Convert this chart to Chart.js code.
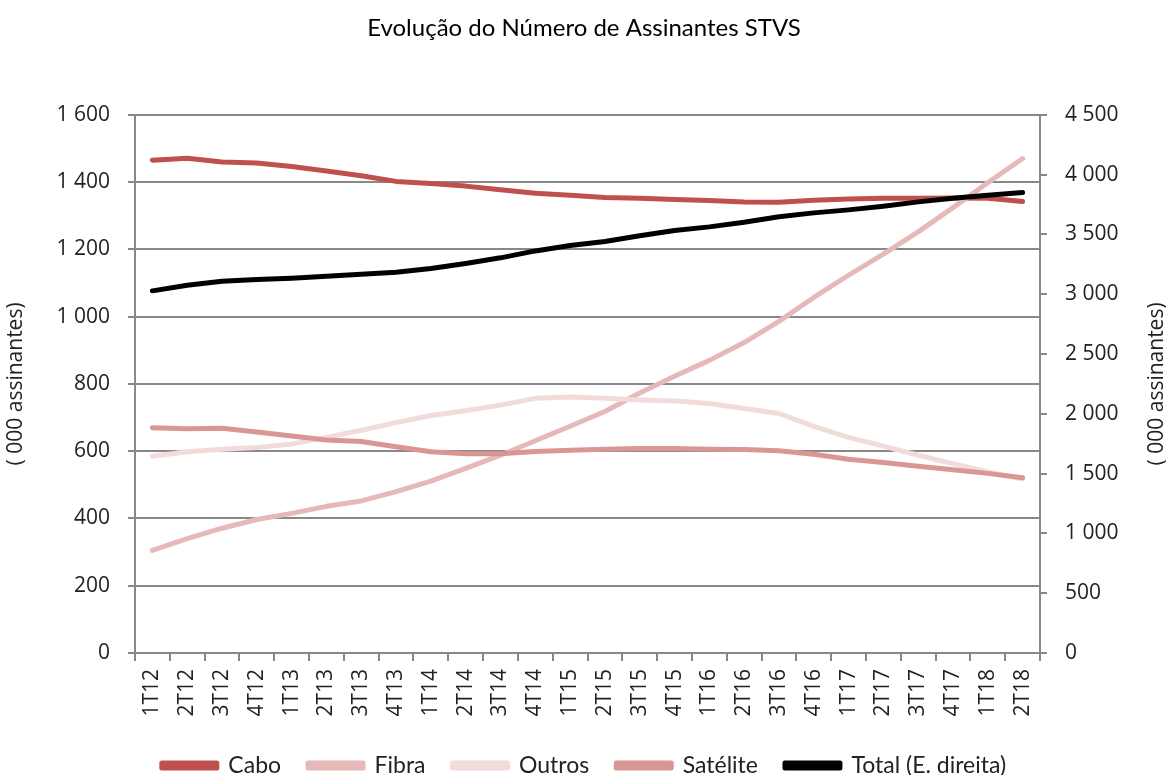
<!DOCTYPE html>
<html>
<head>
<meta charset="utf-8">
<script src="https://cdn.jsdelivr.net/npm/chart.js@4/dist/chart.umd.min.js"></script>
<style>
  html, body { margin: 0; padding: 0; background: #fff; }
  #wrap { width: 1168px; height: 775px; }
</style>
</head>
<body>
<div id="wrap"><canvas id="stvsChart" width="1168" height="775"></canvas></div>
<script>
const quarters = [
  "1T12", "2T12", "3T12", "4T12", "1T13", "2T13", "3T13", "4T13",
  "1T14", "2T14", "3T14", "4T14", "1T15", "2T15", "3T15", "4T15",
  "1T16", "2T16", "3T16", "4T16", "1T17", "2T17", "3T17", "4T17",
  "1T18", "2T18"
];

// milhares de assinantes
const cabo = [
  1465, 1471, 1460, 1457, 1446, 1433, 1419, 1402, 1396, 1388, 1377, 1367, 1361,
  1354, 1352, 1348, 1345, 1341, 1340, 1346, 1350, 1352, 1352, 1353, 1352, 1342
];
const fibra = [
  305, 340, 371, 397, 415, 436, 452, 480, 511, 549, 588, 631, 674,
  718, 773, 823, 870, 923, 986, 1057, 1123, 1186, 1252, 1324, 1398, 1470
];
const outros = [
  585, 598, 606, 611, 621, 641, 662, 685, 706, 720, 737, 757, 761,
  757, 752, 749, 742, 727, 712, 674, 641, 615, 588, 563, 538, 517
];
const satelite = [
  670, 667, 668, 657, 645, 633, 629, 613, 598, 592, 592, 599, 603,
  606, 608, 608, 606, 605, 601, 591, 576, 566, 555, 545, 534, 521
];
// eixo da direita
const total = [
  3028, 3075, 3109, 3123, 3134, 3151, 3167, 3184, 3215, 3257, 3304, 3362, 3407,
  3441, 3488, 3533, 3563, 3602, 3647, 3680, 3705, 3736, 3772, 3803, 3828, 3851
];

const axisTitle = "( 000 assinantes)";
const gridColor = "#888888";
const tickFont = { family: "'Open Sans'", size: 21 };
const textFont = { family: "Lato", size: 23 };
const bottomShift = 12;

function fmt(v) {
  return String(v).replace(/\B(?=(\d{3})+(?!\d))/g, " ");
}

function line(label, data, color, order, axis) {
  return {
    label: label,
    data: data,
    borderColor: color,
    backgroundColor: color,
    borderWidth: 5,
    borderCapStyle: "round",
    borderJoinStyle: "round",
    pointRadius: 0,
    tension: 0,
    order: order,
    yAxisID: axis
  };
}

// título do eixo direito, lido de baixo para cima como o da esquerda
const rightTitle = {
  id: "rightTitle",
  afterDraw(chart) {
    const ctx = chart.ctx;
    const area = chart.chartArea;
    ctx.save();
    ctx.translate(1157, (area.top + area.bottom) / 2);
    ctx.rotate(-Math.PI / 2);
    ctx.fillStyle = "#222";
    ctx.font = "21px 'Open Sans'";
    ctx.textAlign = "center";
    ctx.textBaseline = "middle";
    ctx.fillText(axisTitle, 0, 0);
    ctx.restore();
  }
};

new Chart(document.getElementById("stvsChart"), {
  type: "line",
  data: {
    labels: quarters,
    datasets: [
      line("Cabo", cabo, "#C0504D", 5, "y"),
      line("Fibra", fibra, "#E6B9B8", 4, "y"),
      line("Outros", outros, "#F2DCDB", 3, "y"),
      line("Satélite", satelite, "#D99694", 2, "y"),
      line("Total (E. direita)", total, "#000000", 1, "y1")
    ]
  },
  plugins: [rightTitle],
  options: {
    responsive: false,
    animation: false,
    layout: { padding: { left: 0, right: 0, top: 0, bottom: -bottomShift } },
    plugins: {
      title: {
        display: true,
        text: "Evolução do Número de Assinantes STVS",
        color: "#000",
        font: { family: "Lato", size: 24, weight: "normal" },
        padding: { top: 14, bottom: 72 }
      },
      legend: {
        position: "bottom",
        labels: {
          color: "#222",
          font: textFont,
          boxWidth: 55,
          boxHeight: 5,
          padding: 27,
          sort: (a, b) => a.datasetIndex - b.datasetIndex
        }
      },
      tooltip: { enabled: false }
    },
    scales: {
      x: {
        offset: true,
        grid: {
          offset: true,
          drawOnChartArea: false,
          tickLength: 8,
          color: gridColor,
          lineWidth: 2
        },
        border: { color: gridColor, width: 2 },
        ticks: {
          color: "#222",
          font: tickFont,
          minRotation: 90,
          maxRotation: 90,
          padding: 8,
          autoSkip: false
        },
        afterFit: (s) => {
          const leg = s.chart.legend ? s.chart.legend.height : 0;
          s.height = 775 + bottomShift - 653 - leg;
        }
      },
      y: {
        position: "left",
        min: 0,
        max: 1600,
        grid: { color: gridColor, lineWidth: 2, tickLength: 7 },
        border: { color: gridColor, width: 2 },
        ticks: {
          stepSize: 200,
          color: "#222",
          font: tickFont,
          padding: 18,
          callback: (v) => fmt(v)
        },
        title: {
          display: true,
          text: axisTitle,
          color: "#222",
          font: tickFont,
          padding: { top: 3, bottom: 0 }
        },
        afterFit: (s) => { s.width = 135; }
      },
      y1: {
        position: "right",
        min: 0,
        max: 4500,
        grid: { drawOnChartArea: false, color: gridColor, lineWidth: 2, tickLength: 7 },
        border: { color: gridColor, width: 2 },
        ticks: {
          stepSize: 500,
          color: "#222",
          font: tickFont,
          padding: 18,
          callback: (v) => fmt(v)
        },
        afterFit: (s) => { s.width = 128; }
      }
    }
  }
});
</script>
</body>
</html>
